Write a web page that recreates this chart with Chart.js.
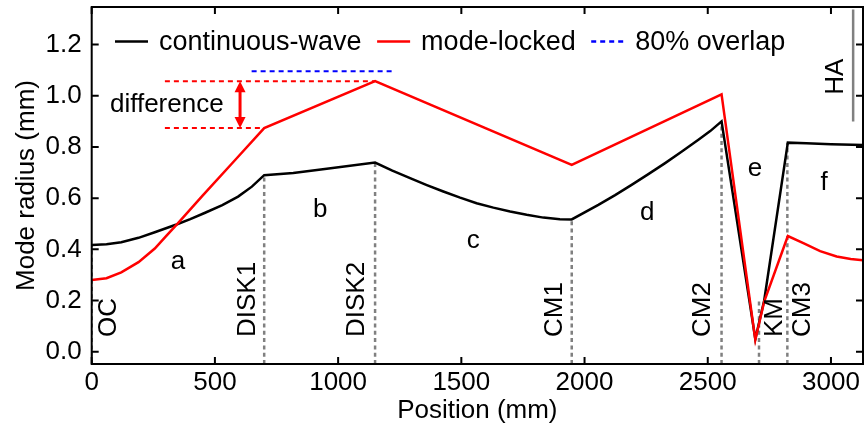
<!DOCTYPE html>
<html><head><meta charset="utf-8">
<script src="https://cdn.jsdelivr.net/npm/chart.js@4/dist/chart.umd.min.js"></script>
<style>html,body{margin:0;padding:0;background:#fff;}canvas{display:block;}</style>
</head><body>
<canvas id="c" width="864" height="432"></canvas>
<script>
// ---------- data ----------
const seriesNames = ['continuous-wave', 'mode-locked', '80% overlap'];
const cwX = [0,60,120,190,256,344,400,458,530,594,650,700,818,954,1150,1220,1292,1360,1427,1495,1562,1630,1698,1765,1833,1900,1948,2056,2124,2191,2259,2327,2395,2462,2510,2556,2693,2729,2825,2900,3000,3130];
const cwY = [0.417,0.420,0.428,0.445,0.467,0.497,0.518,0.542,0.573,0.606,0.645,0.690,0.698,0.715,0.739,0.708,0.678,0.651,0.626,0.602,0.580,0.563,0.548,0.535,0.524,0.518,0.517,0.574,0.612,0.652,0.694,0.737,0.782,0.828,0.862,0.900,0.050,0.200,0.817,0.815,0.811,0.808];
const mlX = [0,60,120,190,256,300,344,450,583,700,1150,1948,2556,2693,2729,2825,2888,2956,3023,3080,3130];
const mlY = [0.280,0.287,0.310,0.350,0.403,0.450,0.496,0.610,0.750,0.874,1.057,0.730,1.006,0.046,0.196,0.452,0.424,0.393,0.372,0.362,0.357];
const overlapX = [649, 1232];
const overlapY = [1.096, 1.096];
const diffTopX = [297, 1150];
const diffTopY = [1.057, 1.057];
const diffBotX = [297, 700];
const diffBotY = [0.874, 0.874];
const diffArrowX = 602;
const elementNames = ['OC', 'DISK1', 'DISK2', 'CM1', 'CM2', 'KM', 'CM3'];
const elementPos = [0, 700, 1150, 1948, 2556, 2708, 2823];
const elementTop = [0.417, 0.690, 0.739, 0.517, 0.900, 0.196, 0.817];
const haName = 'HA';
const haPos = 3090;
const haRange = [0.900, 1.337];
const sectionNames = ['a', 'b', 'c', 'd', 'e', 'f'];
const diffLabel = 'difference';
const xTickVals = [0, 500, 1000, 1500, 2000, 2500, 3000];
const yTickVals = [0.0, 0.2, 0.4, 0.6, 0.8, 1.0, 1.2];
const xRange = [0, 3130];
const yRange = [-0.048, 1.347];

// ---------- layout (positions in data units, kept apart from the data) ----------
const FONT = "'Liberation Sans', Arial, Helvetica, sans-serif";
const elementLabelAt = { x: [70, 632, 1077, 1880, 2482, 2773, 2887], yBottom: 0.0575 };
const haLabelAt = { x: 3021, yBottom: 1.004 };
const sectionAt = { x: [350, 927, 1548, 2254, 2692, 2972], y: [0.322, 0.527, 0.406, 0.515, 0.687, 0.632] };
const diffLabelAt = { x: 74, y: 0.936 };

const pts = (xs, ys) => xs.map((x, i) => ({ x, y: ys[i] }));

const datasets = [
  { label: seriesNames[1], data: pts(mlX, mlY), borderColor: '#ff0000', borderWidth: 2.5, order: 1 },
  { label: seriesNames[0], data: pts(cwX, cwY), borderColor: '#000000', borderWidth: 2.5, order: 2 },
  { label: seriesNames[2], data: pts(overlapX, overlapY), borderColor: '#0000ff', borderWidth: 2.2, borderDash: [5, 4], order: 3 },
  { label: '', data: pts(diffTopX, diffTopY), borderColor: '#ff0000', borderWidth: 2, borderDash: [5, 4], order: 3 },
  { label: '', data: pts(diffBotX, diffBotY), borderColor: '#ff0000', borderWidth: 2, borderDash: [5, 4], order: 3 },
  { label: '', data: [{ x: haPos, y: haRange[0] }, { x: haPos, y: haRange[1] }], borderColor: '#808080', borderWidth: 2.5, order: 4 }
];
elementPos.forEach((p, i) => {
  datasets.push({ label: '', data: [{ x: p, y: yRange[0] }, { x: p, y: elementTop[i] }], borderColor: '#808080', borderWidth: 2.5, borderDash: [4, 3.3], order: 5 });
});

const framePlugin = {
  id: 'frame',
  afterDatasetsDraw(chart) {
    const { ctx, chartArea: a, scales: { x, y } } = chart;
    ctx.save();
    ctx.strokeStyle = '#000';
    ctx.lineWidth = 2;
    ctx.strokeRect(a.left, a.top, a.right - a.left, a.bottom - a.top);
    const L = 7;
    ctx.beginPath();
    x.ticks.forEach(t => {
      const px = x.getPixelForValue(t.value);
      ctx.moveTo(px, a.bottom); ctx.lineTo(px, a.bottom - L);
      ctx.moveTo(px, a.top); ctx.lineTo(px, a.top + L);
    });
    y.ticks.forEach(t => {
      const py = y.getPixelForValue(t.value);
      ctx.moveTo(a.left, py); ctx.lineTo(a.left + L, py);
      ctx.moveTo(a.right, py); ctx.lineTo(a.right - L, py);
    });
    ctx.stroke();
    ctx.restore();
  },
  afterDraw(chart) {
    const { ctx, chartArea: a, scales: { x, y } } = chart;
    ctx.save();
    ctx.fillStyle = '#000';
    ctx.font = `26px ${FONT}`;
    const rot = (txt, px, py) => {
      ctx.save(); ctx.translate(px, py); ctx.rotate(-Math.PI / 2);
      ctx.textAlign = 'left'; ctx.textBaseline = 'middle';
      ctx.fillText(txt, 0, 0); ctx.restore();
    };
    elementNames.forEach((n, i) => rot(n, x.getPixelForValue(elementLabelAt.x[i]), y.getPixelForValue(elementLabelAt.yBottom)));
    rot(haName, x.getPixelForValue(haLabelAt.x), y.getPixelForValue(haLabelAt.yBottom));
    ctx.textAlign = 'center'; ctx.textBaseline = 'alphabetic';
    sectionNames.forEach((n, i) => ctx.fillText(n, x.getPixelForValue(sectionAt.x[i]), y.getPixelForValue(sectionAt.y[i])));
    ctx.textAlign = 'left';
    ctx.fillText(diffLabel, x.getPixelForValue(diffLabelAt.x), y.getPixelForValue(diffLabelAt.y));
    const ax = x.getPixelForValue(diffArrowX);
    const y1 = y.getPixelForValue(diffTopY[0]);
    const y2 = y.getPixelForValue(diffBotY[0]);
    const hl = 11, hw = 5.5;
    ctx.strokeStyle = '#ff0000'; ctx.fillStyle = '#ff0000'; ctx.lineWidth = 3;
    ctx.beginPath(); ctx.moveTo(ax, y1 + hl - 1); ctx.lineTo(ax, y2 - hl + 1); ctx.stroke();
    ctx.beginPath(); ctx.moveTo(ax, y1); ctx.lineTo(ax - hw, y1 + hl); ctx.lineTo(ax + hw, y1 + hl); ctx.closePath(); ctx.fill();
    ctx.beginPath(); ctx.moveTo(ax, y2); ctx.lineTo(ax - hw, y2 - hl); ctx.lineTo(ax + hw, y2 - hl); ctx.closePath(); ctx.fill();
    ctx.font = `27px ${FONT}`;
    ctx.textBaseline = 'middle'; ctx.textAlign = 'left';
    const legendItems = [
      { name: seriesNames[0], color: '#000000', dash: [] },
      { name: seriesNames[1], color: '#ff0000', dash: [] },
      { name: seriesNames[2], color: '#0000ff', dash: [5, 4] }
    ];
    let lx = a.left + 23.3;
    const ly = a.top + 34.5;
    legendItems.forEach(it => {
      ctx.strokeStyle = it.color; ctx.lineWidth = 2.5; ctx.setLineDash(it.dash);
      ctx.beginPath(); ctx.moveTo(lx, ly); ctx.lineTo(lx + 33, ly); ctx.stroke();
      ctx.setLineDash([]);
      ctx.fillStyle = '#000';
      ctx.fillText(it.name, lx + 44, ly + 1);
      lx += 44 + ctx.measureText(it.name).width + 15.5;
    });
    ctx.restore();
  }
};

new Chart(document.getElementById('c'), {
  type: 'scatter',
  data: { datasets },
  options: {
    responsive: false, animation: false, devicePixelRatio: 1,
    showLine: true,
    layout: { padding: { left: 0, top: 7, right: 1, bottom: 0 } },
    elements: { point: { radius: 0, hoverRadius: 0 }, line: { tension: 0, fill: false } },
    plugins: { legend: { display: false }, tooltip: { enabled: false } },
    scales: {
      x: {
        type: 'linear', min: xRange[0], max: xRange[1],
        afterFit: s => { s.height = 68; s.paddingLeft = 0; s.paddingRight = 0; },
        afterBuildTicks: s => { s.ticks = xTickVals.map(v => ({ value: v })); },
        ticks: { font: { family: FONT, size: 26 }, color: '#000', padding: 3, maxRotation: 0, autoSkip: false, callback: v => String(v) },
        grid: { display: false, drawTicks: false }, border: { display: false },
        title: { display: true, text: 'Position (mm)', color: '#000', font: { family: FONT, size: 26 }, padding: { top: 0, bottom: 6 } }
      },
      y: {
        type: 'linear', min: yRange[0], max: yRange[1],
        afterFit: s => { s.width = 91.7; s.paddingTop = 0; s.paddingBottom = 0; },
        afterBuildTicks: s => { s.ticks = yTickVals.map(v => ({ value: v })); },
        ticks: { font: { family: FONT, size: 26 }, color: '#000', padding: 10, autoSkip: false, callback: v => Number(v).toFixed(1) },
        grid: { display: false, drawTicks: false }, border: { display: false },
        title: { display: true, text: 'Mode radius (mm)', color: '#000', font: { family: FONT, size: 26 }, padding: { top: 11, bottom: 0 } }
      }
    }
  },
  plugins: [framePlugin]
});
</script>
</body></html>
